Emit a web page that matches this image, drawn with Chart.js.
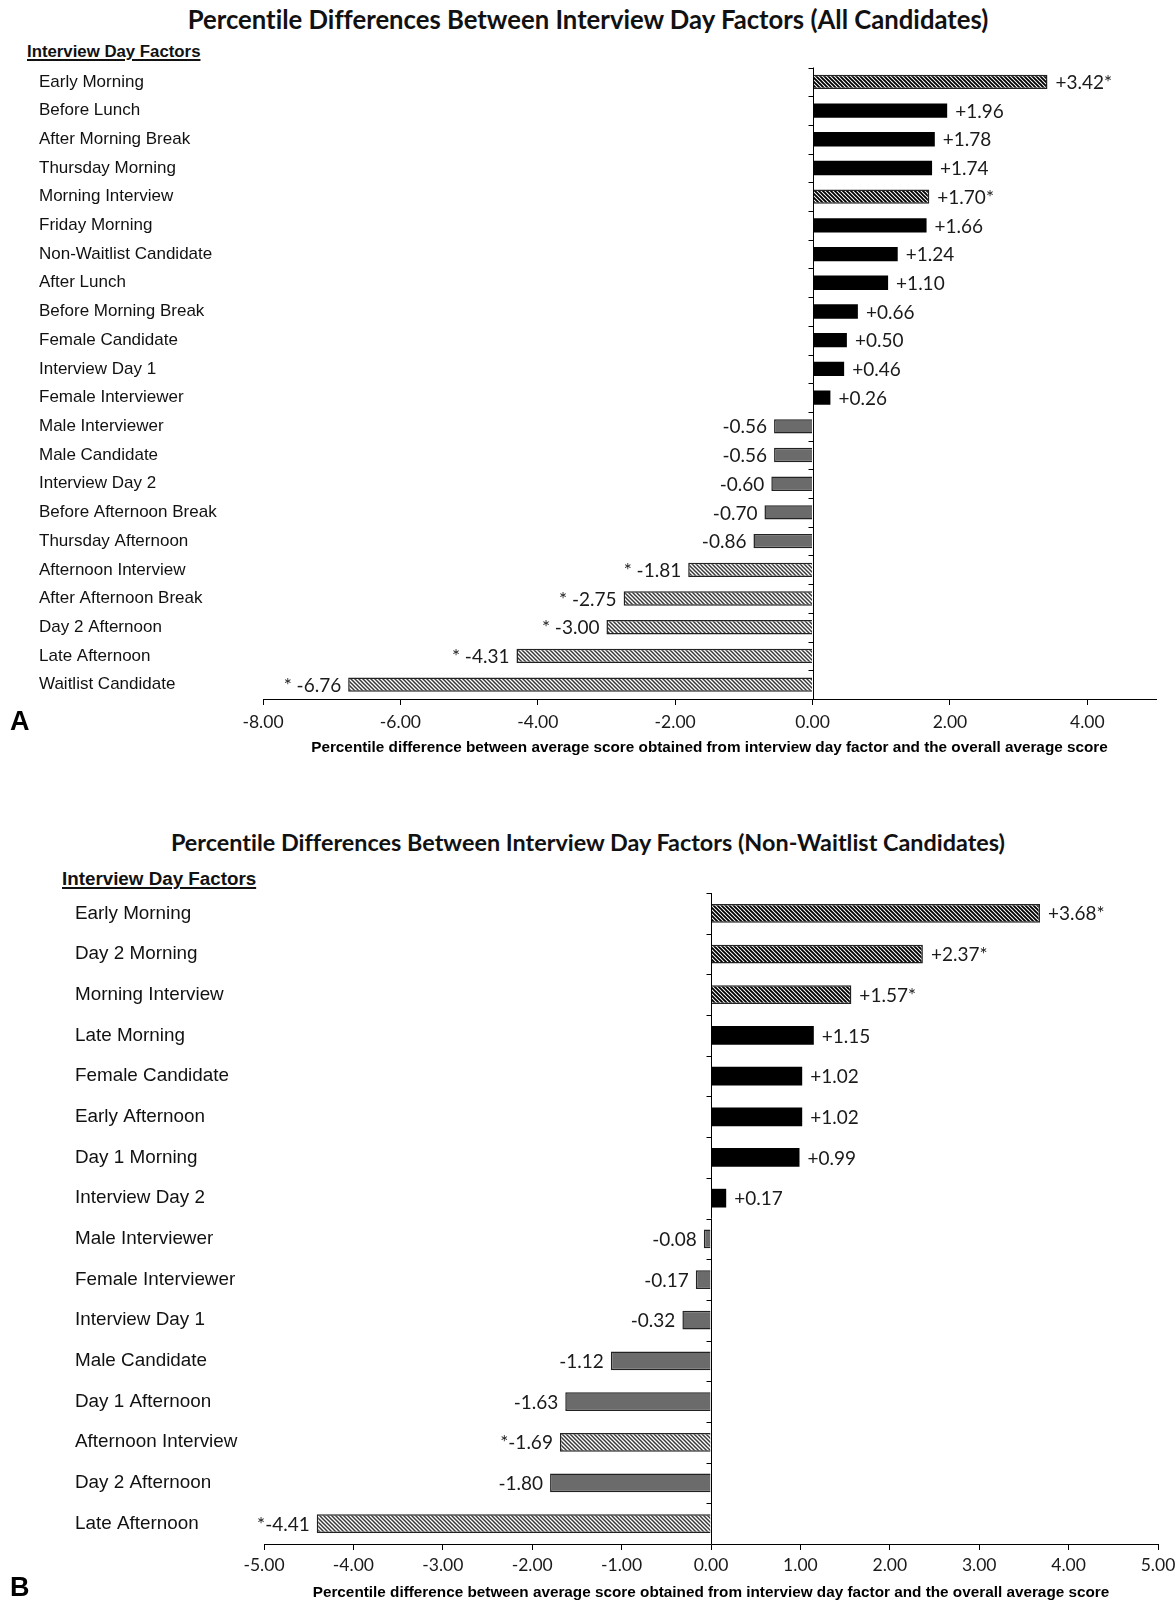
<!DOCTYPE html>
<html>
<head>
<meta charset="utf-8">
<script src="https://cdn.jsdelivr.net/npm/chart.js@4.4.1/dist/chart.umd.min.js"></script>
<style>
  html, body { margin: 0; padding: 0; background: #fff; width: 1176px; height: 1603px; overflow: hidden; position: relative; }
  .box { position: absolute; left: 0; width: 1176px; }
  .title { position: absolute; left: 0; width: 1176px; text-align: center; font-family: Lato, "Open Sans", sans-serif; font-weight: 700; color: #111; white-space: nowrap; font-variant-ligatures: none; }
  .head { position: absolute; font-family: "Liberation Sans", Arial, sans-serif; font-weight: 700; text-decoration: underline; text-decoration-thickness: 2px; text-underline-offset: 2px; color: #111; white-space: nowrap; }
  .letter { position: absolute; font-family: "Liberation Sans", Arial, sans-serif; font-weight: 700; font-size: 27px; color: #000; }
</style>
</head>
<body>
<div class="title" style="top:4px;font-size:25.7px;line-height:30px;">Percentile Differences Between Interview Day Factors (All Candidates)</div>
<div class="head" style="left:27px;top:42px;font-size:16.8px;line-height:20px;">Interview Day Factors</div>
<div class="box" style="top:0;height:757px;"><canvas id="chartA"></canvas></div>
<div class="letter" style="left:10px;top:706px;">A</div>

<div class="title" style="top:828px;font-size:23.4px;line-height:28px;">Percentile Differences Between Interview Day Factors (Non-Waitlist Candidates)</div>
<div class="head" style="left:62px;top:868px;font-size:18.8px;line-height:22px;">Interview Day Factors</div>
<div class="box" style="top:780px;height:822px;"><canvas id="chartB"></canvas></div>
<div class="letter" style="left:10px;top:1572px;">B</div>

<script>
// ---- Panel A: all candidates ----
const factorsA = [
  'Early Morning', 'Before Lunch', 'After Morning Break', 'Thursday Morning', 'Morning Interview',
  'Friday Morning', 'Non-Waitlist Candidate', 'After Lunch', 'Before Morning Break', 'Female Candidate',
  'Interview Day 1', 'Female Interviewer', 'Male Interviewer', 'Male Candidate', 'Interview Day 2',
  'Before Afternoon Break', 'Thursday Afternoon', 'Afternoon Interview', 'After Afternoon Break',
  'Day 2 Afternoon', 'Late Afternoon', 'Waitlist Candidate'
];
const diffA = [
  3.42, 1.96, 1.78, 1.74, 1.70, 1.66, 1.24, 1.10, 0.66, 0.50, 0.46, 0.26,
  -0.56, -0.56, -0.60, -0.70, -0.86, -1.81, -2.75, -3.00, -4.31, -6.76
];
const significantA = [
  true, false, false, false, true, false, false, false, false, false, false, false,
  false, false, false, false, false, true, true, true, true, true
];
const xTicksA = [-8, -6, -4, -2, 0, 2, 4];

// ---- Panel B: non-waitlist candidates ----
const factorsB = [
  'Early Morning', 'Day 2 Morning', 'Morning Interview', 'Late Morning', 'Female Candidate',
  'Early Afternoon', 'Day 1 Morning', 'Interview Day 2', 'Male Interviewer', 'Female Interviewer',
  'Interview Day 1', 'Male Candidate', 'Day 1 Afternoon', 'Afternoon Interview', 'Day 2 Afternoon',
  'Late Afternoon'
];
const diffB = [
  3.68, 2.37, 1.57, 1.15, 1.02, 1.02, 0.99, 0.17,
  -0.08, -0.17, -0.32, -1.12, -1.63, -1.69, -1.80, -4.41
];
const significantB = [
  true, true, true, false, false, false, false, false,
  false, false, false, false, false, true, false, true
];
const xTicksB = [-5, -4, -3, -2, -1, 0, 1, 2, 3, 4, 5];

const axisTitle = 'Percentile difference between average score obtained from interview day factor and the overall average score';

// diagonal hatch used for significant factors
function hatch(lineColor, width) {
  const c = document.createElement('canvas');
  c.width = 4; c.height = 4;
  const g = c.getContext('2d');
  g.fillStyle = '#fff';
  g.fillRect(0, 0, 4, 4);
  g.strokeStyle = lineColor;
  g.lineWidth = width;
  g.beginPath();
  g.moveTo(-1, -1); g.lineTo(5, 5);
  g.moveTo(-1, 3); g.lineTo(1, 5);
  g.moveTo(3, -1); g.lineTo(5, 1);
  g.stroke();
  return g.createPattern(c, 'repeat');
}
const hatchDark = hatch('#000', 1.9);
const hatchLight = hatch('#3a3a3a', 1.5);

function fills(values, sig) {
  return values.map((v, i) => sig[i] ? (v >= 0 ? hatchDark : hatchLight) : (v >= 0 ? '#000' : '#6b6b6b'));
}
function borders(values, sig) {
  return values.map((v, i) => (v >= 0 && !sig[i]) ? '#000' : '#222');
}
function borderWidths(values, sig) {
  return values.map((v, i) => (v >= 0 && !sig[i]) ? 0 : 1.5);
}

const valueFont = '19px Lato, "Open Sans", sans-serif';

// zero line with category tick marks, plus value labels beside each bar
const annotate = {
  id: 'annotate',
  afterDatasetsDraw(chart, args, opts) {
    const { ctx, chartArea, scales: { x, y } } = chart;
    const x0 = Math.round(x.getPixelForValue(0)) + 0.5;
    ctx.save();
    ctx.strokeStyle = '#000';
    ctx.lineWidth = 1;
    ctx.beginPath();
    ctx.moveTo(x0, chartArea.top);
    ctx.lineTo(x0, chartArea.bottom);
    const n = chart.data.labels.length;
    for (let i = 0; i <= n; i++) {
      const yy = Math.round(y.getPixelForValue(i - 0.5)) + 0.5;
      ctx.moveTo(x0 - 5, yy);
      ctx.lineTo(x0, yy);
    }
    ctx.stroke();

    const values = chart.data.datasets[0].data;
    const meta = chart.getDatasetMeta(0);
    ctx.font = valueFont;
    ctx.fillStyle = '#1a1a1a';
    ctx.textBaseline = 'middle';
    meta.data.forEach((bar, i) => {
      const v = values[i];
      const txt = opts.format(v, opts.sig[i]);
      if (v >= 0) {
        ctx.textAlign = 'left';
        ctx.fillText(txt, bar.x + 8, bar.y + 1);
      } else {
        ctx.textAlign = 'right';
        ctx.fillText(txt, bar.x - 7, bar.y + 1);
      }
    });
    ctx.restore();
  }
};

function makeChart(id, labels, values, sig, ticks, opt) {
  return new Chart(document.getElementById(id), {
    type: 'bar',
    data: {
      labels: labels,
      datasets: [{
        data: values,
        backgroundColor: fills(values, sig),
        borderColor: borders(values, sig),
        borderWidth: borderWidths(values, sig),
        borderSkipped: 'start',
        barPercentage: opt.barPct,
        categoryPercentage: 1
      }]
    },
    options: {
      indexAxis: 'y',
      responsive: true,
      maintainAspectRatio: false,
      animation: false,
      devicePixelRatio: 1,
      layout: { padding: opt.padding },
      plugins: {
        legend: { display: false },
        tooltip: { enabled: false },
        title: { display: false },
        annotate: { sig: sig, format: opt.format }
      },
      scales: {
        x: {
          type: 'linear',
          min: opt.min,
          max: opt.max,
          afterBuildTicks(s) { s.ticks = ticks.map(v => ({ value: v })); },
          afterFit(s) { s.height = 58; s.paddingLeft = 0; s.paddingRight = 0; },
          ticks: {
            callback: v => Number(v).toFixed(2),
            font: { family: 'Lato, "Open Sans", sans-serif', size: 17.5 },
            color: '#1a1a1a',
            padding: opt.tickPad,
            maxRotation: 0
          },
          grid: { display: true, drawOnChartArea: false, drawTicks: true, tickLength: 6, color: '#000', lineWidth: 1 },
          border: { display: true, color: '#000', width: 1 },
          title: {
            display: true,
            text: axisTitle,
            font: { family: '"Liberation Sans", Arial, sans-serif', weight: 'bold', size: 15.3 },
            color: '#000',
            padding: { top: 0, bottom: 0 }
          }
        },
        y: {
          type: 'category',
          position: 'left',
          afterFit(s) { s.width = opt.yWidth; },
          grid: { display: false },
          border: { display: false },
          ticks: {
            crossAlign: 'far',
            autoSkip: false,
            font: { family: '"Liberation Sans", Arial, sans-serif', size: opt.labelSize },
            color: '#111'
          }
        }
      }
    },
    plugins: [annotate]
  });
}

makeChart('chartA', factorsA, diffA, significantA, xTicksA, {
  min: -8, max: 5, barPct: 0.5, tickPad: 7, labelSize: 17, yWidth: 224,
  padding: { top: 67.5, left: 39, right: 20, bottom: 0 },
  format: (v, s) => v >= 0 ? '+' + v.toFixed(2) + (s ? '*' : '') : (s ? '* ' : '') + v.toFixed(2)
});

makeChart('chartB', factorsB, diffB, significantB, xTicksB, {
  min: -5, max: 5, barPct: 0.46, tickPad: 4.5, labelSize: 18.85, yWidth: 189,
  padding: { top: 113, left: 75, right: 18, bottom: 0 },
  format: (v, s) => v >= 0 ? '+' + v.toFixed(2) + (s ? '*' : '') : (s ? '*' : '') + v.toFixed(2)
});
</script>
</body>
</html>
